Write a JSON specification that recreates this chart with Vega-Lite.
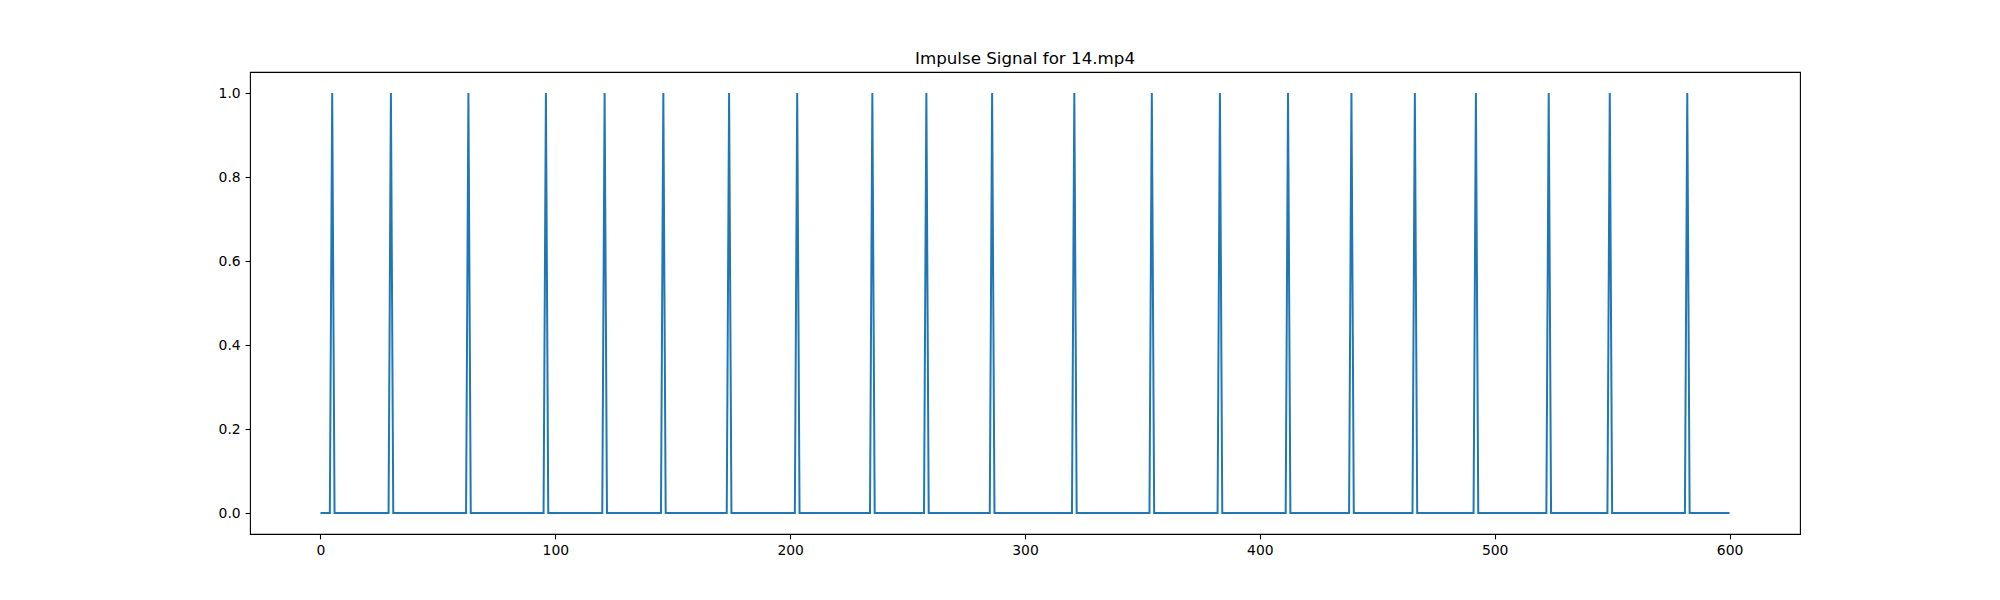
{
  "$schema": "https://vega.github.io/schema/vega-lite/v6.json",
  "width": 1550,
  "height": 462,
  "autosize": {"type": "none"},
  "padding": {"left": 250, "top": 72, "right": 200, "bottom": 66},
  "background": "white",
  "title": {
    "text": "Impulse Signal for 14.mp4",
    "font": "DejaVu Sans",
    "fontSize": 16.7,
    "fontWeight": "normal",
    "color": "black",
    "anchor": "middle",
    "baseline": "alphabetic",
    "offset": -8.4
  },
  "config": {
    "view": {"stroke": "black", "strokeWidth": 1.1},
    "axis": {
      "grid": false,
      "domain": false,
      "labelFont": "DejaVu Sans",
      "labelFontSize": 13.9,
      "labelColor": "black",
      "tickColor": "black",
      "tickSize": 4.9,
      "tickWidth": 1.1,
      "labelPadding": 4.9,
      "title": null
    }
  },
  "data": {
    "values": [
      {"x": 0, "y": 0},
      {"x": 4, "y": 0}, {"x": 5, "y": 1}, {"x": 6, "y": 0},
      {"x": 29, "y": 0}, {"x": 30, "y": 1}, {"x": 31, "y": 0},
      {"x": 62, "y": 0}, {"x": 63, "y": 1}, {"x": 64, "y": 0},
      {"x": 95, "y": 0}, {"x": 96, "y": 1}, {"x": 97, "y": 0},
      {"x": 120, "y": 0}, {"x": 121, "y": 1}, {"x": 122, "y": 0},
      {"x": 145, "y": 0}, {"x": 146, "y": 1}, {"x": 147, "y": 0},
      {"x": 173, "y": 0}, {"x": 174, "y": 1}, {"x": 175, "y": 0},
      {"x": 202, "y": 0}, {"x": 203, "y": 1}, {"x": 204, "y": 0},
      {"x": 234, "y": 0}, {"x": 235, "y": 1}, {"x": 236, "y": 0},
      {"x": 257, "y": 0}, {"x": 258, "y": 1}, {"x": 259, "y": 0},
      {"x": 285, "y": 0}, {"x": 286, "y": 1}, {"x": 287, "y": 0},
      {"x": 320, "y": 0}, {"x": 321, "y": 1}, {"x": 322, "y": 0},
      {"x": 353, "y": 0}, {"x": 354, "y": 1}, {"x": 355, "y": 0},
      {"x": 382, "y": 0}, {"x": 383, "y": 1}, {"x": 384, "y": 0},
      {"x": 411, "y": 0}, {"x": 412, "y": 1}, {"x": 413, "y": 0},
      {"x": 438, "y": 0}, {"x": 439, "y": 1}, {"x": 440, "y": 0},
      {"x": 465, "y": 0}, {"x": 466, "y": 1}, {"x": 467, "y": 0},
      {"x": 491, "y": 0}, {"x": 492, "y": 1}, {"x": 493, "y": 0},
      {"x": 522, "y": 0}, {"x": 523, "y": 1}, {"x": 524, "y": 0},
      {"x": 548, "y": 0}, {"x": 549, "y": 1}, {"x": 550, "y": 0},
      {"x": 581, "y": 0}, {"x": 582, "y": 1}, {"x": 583, "y": 0},
      {"x": 600, "y": 0}
    ]
  },
  "mark": {"type": "line", "color": "#1f77b4", "strokeWidth": 2, "clip": true},
  "encoding": {
    "x": {
      "field": "x",
      "type": "quantitative",
      "sort": null,
      "scale": {"domain": [-30, 630], "nice": false, "zero": false},
      "axis": {"values": [0, 100, 200, 300, 400, 500, 600], "format": "d"}
    },
    "y": {
      "field": "y",
      "type": "quantitative",
      "scale": {"domain": [-0.05, 1.05], "nice": false, "zero": false},
      "axis": {"values": [0, 0.2, 0.4, 0.6, 0.8, 1.0], "format": ".1f"}
    },
    "order": {"field": "x", "type": "quantitative"}
  }
}
